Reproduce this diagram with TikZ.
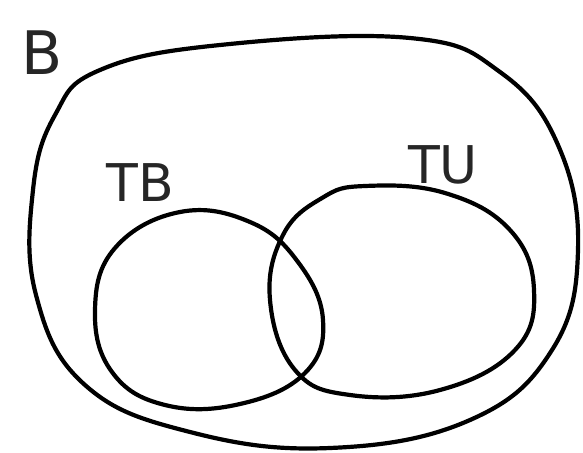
\documentclass[tikz,border=0pt]{standalone}
\usepackage{fontspec}
\setmainfont{DejaVu Sans}
\begin{document}
\begin{tikzpicture}[x=1pt,y=-1pt,
  stroke/.style={line width=4.2pt,line cap=round,line join=round,black},
  lbl/.style={inner sep=0pt,text=black!85}]
\useasboundingbox[fill=white] (0,0) rectangle (583,452);
\draw[stroke] plot[smooth cycle,tension=0.7] coordinates{
 (100,70) (220,45) (410,38) (500,72) (558,145) (578,250) (552,350)
 (470,420) (330,448) (190,432) (85,385) (36,295) (33,190) (55,115)};
\draw[stroke] plot[smooth cycle,tension=0.7] coordinates{
 (180,212) (250,222) (298,262) (323,320) (305,373) (240,404)
 (165,405) (112,372) (95,310) (115,248)};
\draw[stroke] plot[smooth cycle,tension=0.7] coordinates{
 (365,186) (445,193) (510,230) (534,290) (515,350) (440,390)
 (350,395) (295,370) (270,300) (283,235) (322,198)};
\node[lbl,font=\fontsize{60}{60}\selectfont] (b) at (42,53) {B};
\node[lbl,font=\fontsize{52}{52}\selectfont] (tb) at (140,183) {TB};
\node[lbl,font=\fontsize{52}{52}\selectfont] (tu) at (443,165) {TU};
\end{tikzpicture}
\end{document}
